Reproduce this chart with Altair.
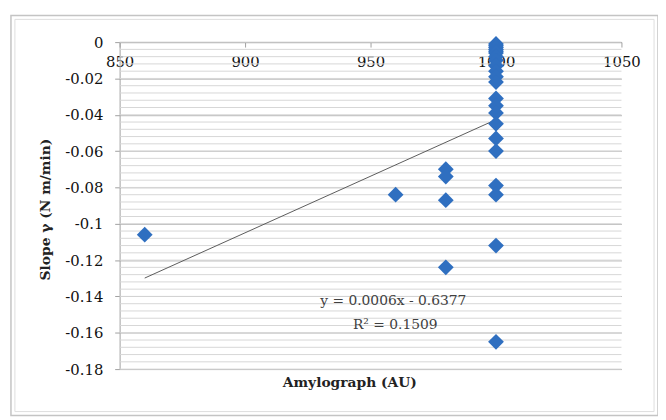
import altair as alt
import pandas as pd
import numpy as np

# Data
x_860 = [860]
y_860 = [-0.106]
x_960 = [960]
y_960 = [-0.084]
x_980 = [980, 980, 980, 980]
y_980 = [-0.070, -0.074, -0.087, -0.124]
y_1000 = [-0.001, -0.002, -0.003, -0.004, -0.005, -0.006, -0.008, -0.010,
          -0.013, -0.016, -0.019, -0.022, -0.031, -0.035, -0.039, -0.045,
          -0.053, -0.060, -0.079, -0.084, -0.112, -0.165]
x_1000 = [1000] * len(y_1000)

x_ticks = [850, 900, 950, 1000, 1050]
y_ticks = [0, -0.02, -0.04, -0.06, -0.08, -0.1, -0.12, -0.14, -0.16, -0.18]
eq_line1 = "y = 0.0006x - 0.6377"
eq_line2 = "R\u00b2 = 0.1509"
x_title = "Amylograph (AU)"
y_title = "Slope \u03b3 (N m/min)"

df = pd.DataFrame({
    "x": x_860 + x_960 + x_980 + x_1000,
    "y": y_860 + y_960 + y_980 + y_1000,
})
minor = pd.DataFrame({"y": [round(v, 3) for v in np.arange(0, -0.1801, -0.004)]})

W, H = 508, 331
FONT = "DejaVu Serif"

xs = alt.Scale(domain=[850, 1050], nice=False, zero=False)
ys = alt.Scale(domain=[-0.18, 0], nice=False, zero=False)

x_axis = alt.Axis(
    values=x_ticks, orient="bottom", offset=-H, title=None, grid=False,
    domainColor="#a0a0a0", tickColor="#a0a0a0", tickSize=5, labelPadding=8,
    labelFlush=False, labelFont=FONT, labelFontSize=15,
    labelFontWeight="normal", labelColor="#111111", format="d")
y_axis = alt.Axis(
    values=y_ticks, title=y_title, orient="left", grid=True,
    gridColor="#b4b4b4", domainColor="#a0a0a0", tickColor="#a0a0a0",
    tickSize=5, labelPadding=12, labelFont=FONT, labelFontSize=15,
    labelFontWeight="normal", labelColor="#111111",
    labelExpr="(datum.value < 0 ? '-' : '') + format(abs(datum.value), '.2~f')",
    titleFont=FONT, titleFontSize=14, titleFontWeight="bold",
    titleColor="#222222", titleX=-68, titleY=169)

X = alt.X("x:Q", scale=xs, axis=x_axis)
Y = alt.Y("y:Q", scale=ys, axis=y_axis)

minor_grid = alt.Chart(minor).mark_rule(color="#d6d6d6", strokeWidth=1).encode(
    y=Y
)

points = alt.Chart(df).mark_point(
    shape="diamond", filled=True, size=256, color="#2f6fc0", opacity=1
).encode(x=X, y=Y)

trend = alt.Chart(df).transform_regression("x", "y").mark_line(
    color="#5a5a5a", strokeWidth=1
).encode(x=X, y=Y)

def note(text, px, py, weight="normal", color="#404040", size=15):
    return alt.Chart(pd.DataFrame({"t": [text]})).mark_text(
        font=FONT, fontSize=size, fontWeight=weight, color=color,
        align="center", baseline="middle"
    ).encode(text="t:N", x=alt.value(px), y=alt.value(py))

eq1 = note(eq_line1, 277, 262, size=14)
eq2 = note(eq_line2, 279, 286, size=14)
xtitle = note(x_title, 233, 345, weight="bold", color="#222222", size=14)

def frame(x1, x2, y1, y2, color, sw):
    return alt.Chart(pd.DataFrame({"a": [0]})).mark_rect(
        fill=None, stroke=color, strokeWidth=sw, clip=False
    ).encode(x=alt.value(x1), x2=alt.value(x2), y=alt.value(y1), y2=alt.value(y2))

frame_outer = frame(-110, 545, -27, 378, "#c4c4c4", 1.5)
frame_inner = frame(-106, 541, -23, 374, "#dddddd", 1)

chart = alt.layer(
    minor_grid, trend, points, eq1, eq2, xtitle, frame_outer, frame_inner
).properties(
    width=W, height=H,
    autosize=alt.AutoSizeParams(type="none"),
    padding={"left": 113, "top": 32, "right": 37, "bottom": 49},
    background="white",
).configure_view(stroke=None).configure_axis(
    labelFont=FONT, titleFont=FONT
)

chart.save("out.html", embed_options={"renderer": "svg", "actions": False})
